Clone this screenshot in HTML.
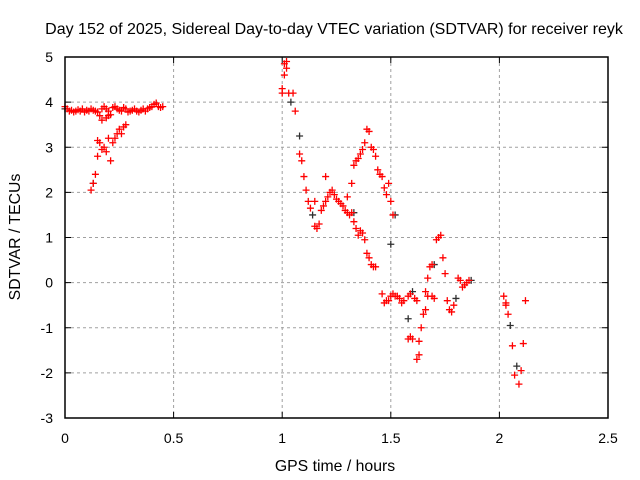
<!DOCTYPE html>
<html><head><meta charset="utf-8"><style>
html,body{margin:0;padding:0;background:#fff;}
svg{display:block;font-family:"Liberation Sans",sans-serif;}
</style></head><body>
<svg id="chart" width="640" height="480">
<rect x="0" y="0" width="640" height="480" fill="#fff"/>
<text x="334" y="34" font-size="16" text-anchor="middle">Day 152 of 2025, Sidereal Day-to-day VTEC variation (SDTVAR) for receiver reyk</text>
<text x="335" y="471" font-size="15.8" text-anchor="middle">GPS time / hours</text>
<text x="20" y="237" font-size="15.8" text-anchor="middle" transform="rotate(-90 20 237)">SDTVAR / TECUs</text>
<g id="grid"></g><g id="ticks"></g><g id="marks"></g>
<rect x="65" y="57" width="543" height="361" fill="none" stroke="#000" stroke-width="1.5"/>
</svg>
<script>
const xTicks=[0,0.5,1,1.5,2,2.5];
const xTickLabels=["0","0.5","1","1.5","2","2.5"];
const yTicks=[-3,-2,-1,0,1,2,3,4,5];
const yTickLabels=["-3","-2","-1","0","1","2","3","4","5"];
const redT=[0,0.01,0.02,0.03,0.04,0.05,0.06,0.07,0.08,0.09,0.1,0.11,0.12,0.13,0.14,0.15,0.16,0.17,0.18,0.19,0.2,0.21,0.22,0.23,0.24,0.25,0.26,0.27,0.28,0.29,0.3,0.31,0.32,0.33,0.34,0.35,0.36,0.37,0.38,0.39,0.4,0.41,0.42,0.43,0.44,0.45,
0.12,0.13,0.14,0.15,0.16,0.17,0.18,0.19,0.2,0.21,0.22,0.23,0.24,0.25,0.26,0.27,0.28,0.15,0.17,0.19,0.2,
1.0,1.0,1.01,1.01,1.02,1.02,1.03,1.05,1.06,1.08,1.09,1.1,1.11,1.12,1.13,1.15,1.15,1.16,1.17,1.18,1.19,1.2,1.21,1.2,1.22,1.23,1.24,1.25,1.26,1.27,1.28,1.29,1.3,1.31,1.32,1.33,1.34,1.35,1.36,1.37,1.38,1.39,1.4,1.41,1.42,1.43,
1.3,1.32,1.33,1.34,1.35,1.36,1.37,1.38,1.39,1.4,1.41,1.42,1.43,1.44,1.45,1.46,1.47,1.48,1.49,1.5,1.51,
1.46,1.47,1.48,1.49,1.5,1.51,1.52,1.53,1.54,1.55,1.56,1.58,1.59,1.6,1.58,1.59,1.61,1.62,1.62,1.63,1.63,1.64,1.65,1.66,1.66,1.67,1.67,1.68,1.69,1.71,1.72,1.73,1.74,1.75,1.76,1.77,1.78,1.79,1.81,1.82,1.83,1.84,1.85,1.86,1.69,1.7,
2.02,2.03,2.04,2.06,2.07,2.09,2.1,2.11,2.12,2.03];
const redV=[3.9,3.85,3.8,3.82,3.78,3.8,3.83,3.8,3.85,3.78,3.82,3.8,3.85,3.82,3.8,3.78,3.7,3.85,3.9,3.85,3.8,3.72,3.88,3.9,3.85,3.82,3.8,3.88,3.85,3.78,3.8,3.82,3.85,3.8,3.78,3.82,3.85,3.8,3.85,3.88,3.9,3.95,3.98,3.9,3.88,3.9,
2.05,2.2,2.4,2.8,3.1,2.95,3.0,2.9,3.2,2.7,3.1,3.2,3.3,3.4,3.3,3.45,3.5,3.15,3.6,3.65,3.7,
4.2,4.3,4.6,4.85,4.75,4.9,4.2,4.2,3.8,2.85,2.7,2.35,2.05,1.8,1.65,1.8,1.25,1.2,1.3,1.6,1.7,1.8,1.9,2.35,2.0,2.05,1.95,1.85,1.8,1.75,1.7,1.6,1.55,1.5,1.55,1.35,1.2,1.05,1.15,1.1,0.95,0.65,0.55,0.4,0.35,0.35,
1.9,2.2,2.6,2.7,2.75,2.85,2.95,3.1,3.4,3.35,3.0,2.95,2.8,2.5,2.4,2.35,2.1,1.95,2.2,1.8,1.5,
-0.25,-0.45,-0.4,-0.4,-0.3,-0.25,-0.3,-0.3,-0.35,-0.45,-0.4,-1.25,-1.2,-1.25,-0.3,-0.25,-0.35,-0.4,-1.7,-1.6,-1.3,-1.0,-0.7,-0.6,-0.2,-0.3,0.1,0.35,0.4,0.95,1.0,1.05,0.55,0.2,-0.4,-0.6,-0.65,-0.5,0.1,0.05,-0.1,-0.05,0.0,0.05,-0.3,-0.35,
-0.3,-0.45,-0.7,-1.4,-2.05,-2.25,-1.95,-1.35,-0.4,-0.5];
const darkT=[0.0,0.13,1.04,1.08,1.14,1.33,1.5,1.52,1.58,1.6,1.7,1.8,1.87,2.05,2.08];
const darkV=[3.85,2.2,4.0,3.25,1.5,1.55,0.85,1.5,-0.8,-0.2,0.4,-0.35,0.05,-0.95,-1.85];
const NS="http://www.w3.org/2000/svg";
const X=t=>65+t/2.5*543;
const Y=v=>418-(v+3)/8*361;
function mk(tag,a,p){const e=document.createElementNS(NS,tag);for(const k in a)e.setAttribute(k,a[k]);p.appendChild(e);return e;}
const grid=document.getElementById('grid'),ticks=document.getElementById('ticks'),marks=document.getElementById('marks');
xTicks.forEach((t,i)=>{const x=X(t);
 if(i>0&&i<xTicks.length-1){const g=mk('line',{x1:x,x2:x,y1:57,y2:418,stroke:'#a0a0a0','stroke-dasharray':'3,3'},grid);
 
 }
 mk('line',{x1:x,x2:x,y1:418,y2:412,stroke:'#000'},ticks);mk('line',{x1:x,x2:x,y1:57,y2:63,stroke:'#000'},ticks);
 const l=mk('text',{x:x,y:443,'font-size':14,'text-anchor':'middle'},ticks);l.textContent=xTickLabels[i];
 
 });
yTicks.forEach((v,i)=>{const y=Y(v);
 if(i>0&&i<yTicks.length-1){const g=mk('line',{x1:65,x2:608,y1:y,y2:y,stroke:'#a0a0a0','stroke-dasharray':'3,3'},grid);
 
 }
 mk('line',{x1:65,x2:71,y1:y,y2:y,stroke:'#000'},ticks);mk('line',{x1:608,x2:602,y1:y,y2:y,stroke:'#000'},ticks);
 const l=mk('text',{x:53,y:y+5,'font-size':14,'text-anchor':'end'},ticks);l.textContent=yTickLabels[i];
 
 });
function plus(t,v,c,name){const x=X(t),y=Y(v);
 const p=mk('path',{d:`M${x-3.5},${y}H${x+3.5}M${x},${y-3.5}V${y+3.5}`,stroke:c,'stroke-width':1.3,fill:'none'},marks);
 
 }
darkT.forEach((t,i)=>plus(t,darkV[i],'#303030','dark-point'));
redT.forEach((t,i)=>plus(t,redV[i],'#ff0000','sdtvar-point'));
</script>
</body></html>
